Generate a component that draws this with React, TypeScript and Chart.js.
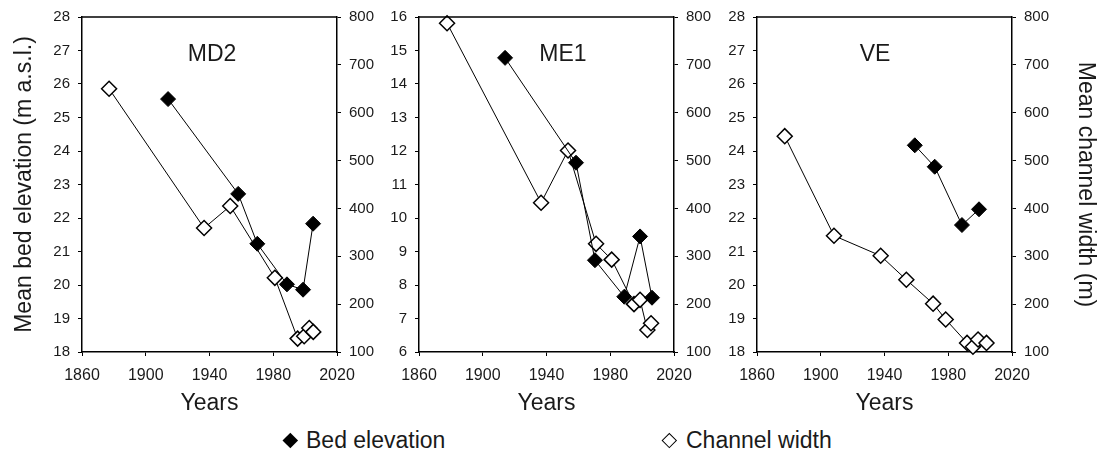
import React, { useEffect, useRef } from 'react';
import { Chart, registerables } from 'chart.js';

Chart.register(...registerables);

// ---------------- data ----------------
const panelNames = ['MD2', 'ME1', 'VE'];
const xTickLabels = ['1860', '1900', '1940', '1980', '2020'];

const md2BedYears = [1914, 1958, 1970, 1988.6, 1998.7, 2005];
const md2BedElev = [25.55, 22.72, 21.23, 20.02, 19.86, 21.83];
const md2WidthYears = [1877, 1936.6, 1953, 1981, 1995.3, 1999.4, 2002.6, 2005.1];
const md2Width = [650, 359, 405, 255, 128, 133, 150, 142];

const me1BedYears = [1914, 1958.5, 1970.4, 1988.8, 1998.7, 2006.2];
const me1BedElev = [14.78, 11.65, 8.74, 7.65, 9.45, 7.62];
const me1WidthYears = [1877.6, 1936.6, 1953.5, 1971.1, 1980.9, 1994.9, 1998.7, 2003.3, 2005.6];
const me1Width = [787, 412, 521, 326, 293, 200, 209, 146, 160];

const veBedYears = [1959, 1971.5, 1988.6, 1999.3];
const veBedElev = [24.17, 23.53, 21.79, 22.26];
const veWidthYears = [1877.4, 1908.3, 1937.6, 1953.7, 1970.5, 1978.4, 1991.8, 1995.5, 1998.7, 2004];
const veWidth = [551, 343, 301, 251, 201, 168, 119, 111, 126, 119];

const bedRanges = [
  [18, 28],
  [6, 16],
  [18, 28],
];
const widthRange = [100, 800];

const leftAxisTitle = 'Mean bed elevation (m a.s.l.)';
const rightAxisTitle = 'Mean channel width (m)';
const xAxisTitle = 'Years';
const legendLabels = ['Bed elevation', 'Channel width'];

// ---------------- layout / style ----------------
const FONT = "'Liberation Sans', Arial, sans-serif";
const TEXT = '#1a1a1a';
const CANVAS_H = 420;

type PanelCfg = {
  name: string;
  bedX: number[];
  bedY: number[];
  widthX: number[];
  widthY: number[];
  yRange: number[];
  left: number;
  leftW: number;
  rightW: number;
  titleDx: number;
  showLeftTitle: boolean;
  showRightTitle: boolean;
};

const panels: PanelCfg[] = [
  {
    name: panelNames[0], bedX: md2BedYears, bedY: md2BedElev, widthX: md2WidthYears, widthY: md2Width,
    yRange: bedRanges[0], left: 0, leftW: 82, rightW: 38, titleDx: 130, showLeftTitle: true, showRightTitle: false,
  },
  {
    name: panelNames[1], bedX: me1BedYears, bedY: me1BedElev, widthX: me1WidthYears, widthY: me1Width,
    yRange: bedRanges[1], left: 375, leftW: 44, rightW: 38, titleDx: 144, showLeftTitle: false, showRightTitle: false,
  },
  {
    name: panelNames[2], bedX: veBedYears, bedY: veBedElev, widthX: veWidthYears, widthY: veWidth,
    yRange: bedRanges[2], left: 712, leftW: 45, rightW: 89, titleDx: 118, showLeftTitle: false, showRightTitle: true,
  },
];

const PLOT_W = 255;

function Panel({ cfg }: { cfg: PanelCfg }) {
  const ref = useRef<HTMLCanvasElement>(null);
  const width = cfg.leftW + PLOT_W + cfg.rightW;

  useEffect(() => {
    const canvas = ref.current;
    if (!canvas) return;

    const framePlugin = {
      id: 'frameAndName',
      afterDatasetsDraw(chart: any) {
        const { ctx, chartArea } = chart;
        ctx.save();
        ctx.strokeStyle = '#000';
        ctx.lineWidth = 1.5;
        ctx.beginPath();
        ctx.moveTo(chartArea.left, chartArea.top);
        ctx.lineTo(chartArea.right, chartArea.top);
        ctx.stroke();
        ctx.fillStyle = TEXT;
        ctx.font = `23px ${FONT}`;
        ctx.textAlign = 'center';
        ctx.textBaseline = 'middle';
        ctx.fillText(cfg.name, chartArea.left + cfg.titleDx, chartArea.top + 37.5);
        ctx.restore();
      },
    };

    const tickGrid = {
      drawOnChartArea: false,
      drawTicks: true,
      tickLength: 4,
      tickColor: '#000',
      tickWidth: 1,
      color: '#000',
    };

    const chart = new Chart(canvas, {
      type: 'scatter',
      data: {
        datasets: [
          {
            label: legendLabels[0],
            data: cfg.bedX.map((x, i) => ({ x, y: cfg.bedY[i] })),
            yAxisID: 'y',
            showLine: true,
            borderColor: '#000',
            borderWidth: 1,
            pointStyle: 'rectRot',
            pointRadius: 7.5,
            pointBackgroundColor: '#000',
            pointBorderColor: '#000',
            pointBorderWidth: 1,
            clip: false,
          } as any,
          {
            label: legendLabels[1],
            data: cfg.widthX.map((x, i) => ({ x, y: cfg.widthY[i] })),
            yAxisID: 'y1',
            showLine: true,
            borderColor: '#000',
            borderWidth: 1,
            pointStyle: 'rectRot',
            pointRadius: 7.5,
            pointBackgroundColor: '#fff',
            pointBorderColor: '#000',
            pointBorderWidth: 1.5,
            clip: false,
          } as any,
        ],
      },
      options: {
        responsive: false,
        animation: false,
        events: [],
        layout: { padding: { top: 15, left: 0, right: 0, bottom: 0 } },
        plugins: {
          legend: { display: false },
          tooltip: { enabled: false },
        },
        scales: {
          x: {
            type: 'linear',
            position: 'bottom',
            min: 1860,
            max: 2020,
            ticks: {
              stepSize: 40,
              autoSkip: false,
              maxRotation: 0,
              padding: 10,
              color: TEXT,
              font: { family: FONT, size: 16 },
              callback: (_v: any, i: number) => xTickLabels[i],
            },
            grid: tickGrid,
            border: { display: true, color: '#000', width: 1.5 },
            title: {
              display: true,
              text: xAxisTitle,
              color: TEXT,
              font: { family: FONT, size: 23 },
              padding: { top: 0, bottom: 3 },
            },
            afterFit: (s: any) => {
              s.height = 68;
            },
          },
          y: {
            type: 'linear',
            position: 'left',
            min: cfg.yRange[0],
            max: cfg.yRange[1],
            ticks: {
              stepSize: 1,
              padding: 8,
              color: TEXT,
              font: { family: FONT, size: 15 },
            },
            grid: tickGrid,
            border: { display: true, color: '#000', width: 1.5 },
            title: {
              display: cfg.showLeftTitle,
              text: leftAxisTitle,
              color: TEXT,
              font: { family: FONT, size: 23 },
              padding: { top: 11, bottom: 0 },
            },
            afterFit: (s: any) => {
              s.width = cfg.leftW;
            },
          },
          y1: {
            type: 'linear',
            position: 'right',
            min: widthRange[0],
            max: widthRange[1],
            ticks: {
              stepSize: 100,
              padding: 8,
              color: TEXT,
              font: { family: FONT, size: 15 },
            },
            grid: tickGrid,
            border: { display: true, color: '#000', width: 1.5 },
            title: {
              display: cfg.showRightTitle,
              text: rightAxisTitle,
              color: TEXT,
              font: { family: FONT, size: 23 },
              padding: { top: 2, bottom: 0 },
            },
            afterFit: (s: any) => {
              s.width = cfg.rightW;
            },
          },
        },
      } as any,
      plugins: [framePlugin],
    });

    return () => chart.destroy();
  }, [cfg]);

  return (
    <canvas
      ref={ref}
      width={width}
      height={CANVAS_H}
      style={{ position: 'absolute', left: cfg.left, top: 0, width, height: CANVAS_H }}
    />
  );
}

function Diamond({ filled, cx, cy }: { filled: boolean; cx: number; cy: number }) {
  const side = 10.6;
  return (
    <div
      style={{
        position: 'absolute',
        left: cx - side / 2,
        top: cy - side / 2,
        width: side,
        height: side,
        boxSizing: 'border-box',
        background: filled ? '#000' : '#fff',
        border: filled ? 'none' : '1.2px solid #000',
        transform: 'rotate(45deg)',
      }}
    />
  );
}

export default function App() {
  const legendText: React.CSSProperties = {
    position: 'absolute',
    top: 426,
    font: `23px ${FONT}`,
    color: TEXT,
    lineHeight: '28px',
    whiteSpace: 'nowrap',
  };
  return (
    <div
      style={{
        position: 'absolute',
        left: 0,
        top: 0,
        width: 1101,
        height: 455,
        background: '#fff',
        overflow: 'hidden',
      }}
    >
      {panels.map((p) => (
        <Panel key={p.name} cfg={p} />
      ))}
      <Diamond filled cx={290} cy={440} />
      <div style={{ ...legendText, left: 306 }}>{legendLabels[0]}</div>
      <Diamond filled={false} cx={669} cy={440} />
      <div style={{ ...legendText, left: 686 }}>{legendLabels[1]}</div>
    </div>
  );
}
